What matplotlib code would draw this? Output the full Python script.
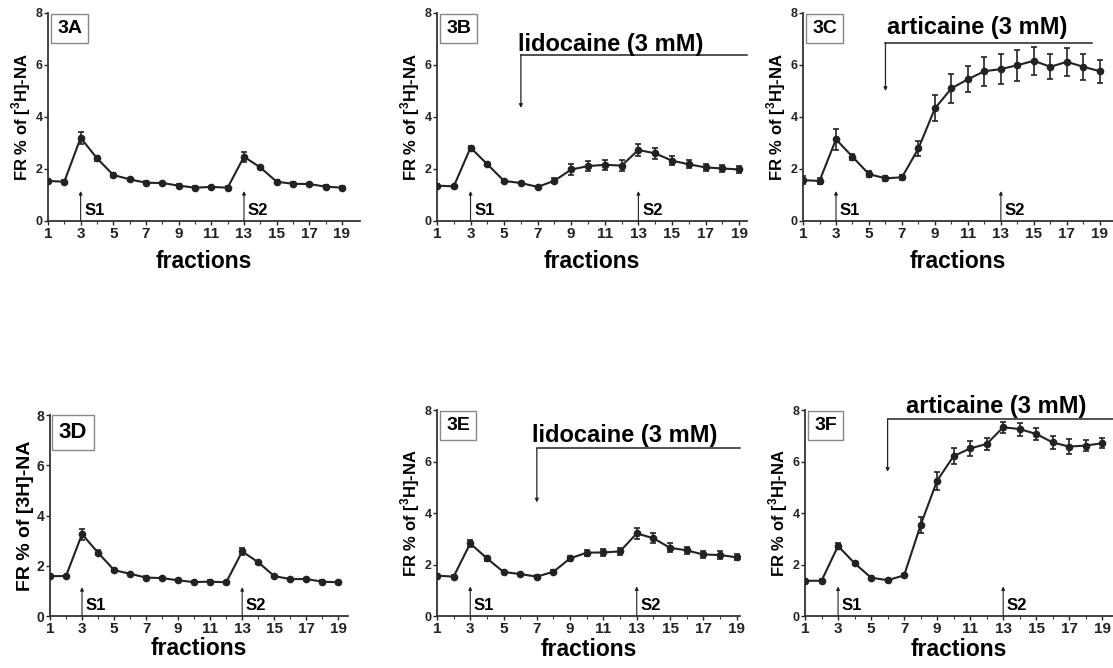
import matplotlib
matplotlib.use("Agg")
import matplotlib.pyplot as plt
import numpy as np

plt.rcParams['font.family'] = ['Liberation Sans', 'DejaVu Sans']
plt.rcParams['mathtext.fontset'] = 'custom'
plt.rcParams['mathtext.rm'] = 'Liberation Sans:bold'
plt.rcParams['mathtext.bf'] = 'Liberation Sans:bold'

fractions = np.arange(1, 20)
xtick_labels = ['1', '3', '5', '7', '9', '11', '13', '15', '17', '19']

# control 1
fr_a = [1.54, 1.51, 3.20, 2.41, 1.77, 1.60, 1.47, 1.46, 1.36, 1.28,
        1.31, 1.28, 2.47, 2.06, 1.51, 1.43, 1.42, 1.32, 1.28]
err_a = [0.05, 0.05, 0.23, 0.10, 0.06, 0.05, 0.05, 0.05, 0.05, 0.05,
         0.05, 0.05, 0.20, 0.06, 0.05, 0.05, 0.05, 0.05, 0.05]
# lidocaine 1
fr_b = [1.36, 1.33, 2.82, 2.18, 1.54, 1.46, 1.31, 1.55, 1.98, 2.11,
        2.16, 2.13, 2.73, 2.60, 2.32, 2.18, 2.06, 2.02, 1.98]
err_b = [0.05, 0.05, 0.06, 0.08, 0.05, 0.05, 0.05, 0.10, 0.20, 0.20,
         0.20, 0.20, 0.22, 0.20, 0.18, 0.15, 0.15, 0.15, 0.15]
# articaine 1
fr_c = [1.57, 1.54, 3.14, 2.47, 1.80, 1.64, 1.68, 2.79, 4.33, 5.10,
        5.45, 5.76, 5.84, 5.99, 6.16, 5.93, 6.12, 5.93, 5.76]
err_c = [0.15, 0.10, 0.40, 0.12, 0.12, 0.10, 0.10, 0.30, 0.50, 0.55,
         0.50, 0.55, 0.58, 0.60, 0.55, 0.48, 0.55, 0.50, 0.45]
# control 2
fr_d = [1.59, 1.59, 3.26, 2.52, 1.83, 1.68, 1.53, 1.51, 1.42, 1.35,
        1.37, 1.34, 2.57, 2.14, 1.59, 1.47, 1.47, 1.37, 1.34]
err_d = [0.05, 0.05, 0.22, 0.10, 0.06, 0.05, 0.05, 0.05, 0.05, 0.05,
         0.05, 0.05, 0.15, 0.06, 0.05, 0.05, 0.05, 0.05, 0.05]
# lidocaine 2
fr_e = [1.57, 1.53, 2.82, 2.24, 1.71, 1.63, 1.53, 1.72, 2.24, 2.46,
        2.47, 2.51, 3.21, 3.02, 2.65, 2.55, 2.39, 2.37, 2.28]
err_e = [0.05, 0.05, 0.15, 0.10, 0.05, 0.05, 0.05, 0.06, 0.10, 0.12,
         0.15, 0.15, 0.22, 0.20, 0.18, 0.15, 0.15, 0.15, 0.12]
# articaine 2
fr_f = [1.37, 1.37, 2.72, 2.05, 1.49, 1.39, 1.58, 3.53, 5.26, 6.21,
        6.51, 6.68, 7.33, 7.26, 7.07, 6.74, 6.58, 6.62, 6.71]
err_f = [0.05, 0.05, 0.12, 0.06, 0.05, 0.05, 0.06, 0.30, 0.35, 0.30,
         0.30, 0.25, 0.22, 0.25, 0.25, 0.25, 0.28, 0.20, 0.20]

ylabel_sup = 'FR % of [$^{3}$H]-NA'
ylabel_plain = 'FR % of [3H]-NA'

fig = plt.figure(figsize=(11.13, 6.68), dpi=100)

def panel(rect, xmax, fr, err, tag, ylabel, xlab_pad=7, ylab_size=12, tag_size=14, ytick_size=9):
    ax = fig.add_axes(rect)
    ax.errorbar(fractions, fr, yerr=err, color='#222222', lw=1.5, marker='o',
                markersize=4.5, elinewidth=1.2, capsize=2.5, capthick=1.2, zorder=3)
    ax.set_xlim(1, xmax)
    ax.set_ylim(0, 8)
    ax.spines['top'].set_visible(False)
    ax.spines['right'].set_visible(False)
    for s in ['left', 'bottom']:
        ax.spines[s].set_color('#333333')
        ax.spines[s].set_linewidth(1.3)
    ax.set_xticks(np.arange(1, 20, 2))
    ax.set_xticklabels(xtick_labels)
    ax.set_xticks(fractions, minor=True)
    ax.set_yticks([0, 2, 4, 6, 8])
    ax.tick_params(axis='both', which='major', length=3, width=1, pad=1, colors='#222222')
    ax.tick_params(axis='x', which='major', labelsize=11)
    ax.tick_params(axis='y', which='major', labelsize=ytick_size)
    ax.tick_params(axis='x', which='minor', length=2, width=0.8, color='#333333')
    for lab in ax.get_xticklabels() + ax.get_yticklabels():
        lab.set_fontweight('bold')
    ax.set_xlabel('fractions', fontsize=16.5, fontweight='bold', labelpad=xlab_pad)
    ax.set_ylabel(ylabel, fontsize=ylab_size, fontweight='bold', labelpad=2)
    ax.text(0.03, 0.965, tag, transform=ax.transAxes, ha='left', va='top',
            fontsize=tag_size, fontweight='bold',
            bbox=dict(boxstyle='square,pad=0.3', fc='white', ec='#888888', lw=1))
    # stimulation arrows
    for xs, name in [(3, 'S1'), (13, 'S2')]:
        ax.annotate('', xy=(xs, 1.15), xytext=(xs, 0),
                    arrowprops=dict(arrowstyle='-|>', lw=0.8, color='#222222',
                                    mutation_scale=5, shrinkA=0, shrinkB=0))
        ax.text(xs + 0.22, 0.42, name, fontsize=12, fontweight='bold', va='center')
    return ax

def drug(ax, label, x0, xend, ytop, ybot, tx, ty):
    ax.plot([x0, xend], [ytop, ytop], color='#222222', lw=1.1, clip_on=False)
    ax.annotate('', xy=(x0, ybot), xytext=(x0, ytop),
                arrowprops=dict(arrowstyle='-|>', lw=0.9, color='#222222',
                                mutation_scale=5, shrinkA=0, shrinkB=0),
                annotation_clip=False)
    ax.text(tx, ty, label, fontsize=17, fontweight='bold', va='baseline', ha='left',
            clip_on=False)

ax_a = panel([0.0431, 0.6692, 0.2803, 0.3114], 20.1, fr_a, err_a, '3A', ylabel_sup)
ax_b = panel([0.3926, 0.6692, 0.2790, 0.3114], 19.5, fr_b, err_b, '3B', ylabel_sup)
drug(ax_b, 'lidocaine (3 mM)', 6, 19.5, 6.4, 4.35, 5.84, 6.55)
ax_c = panel([0.7215, 0.6692, 0.2785, 0.3114], 19.8, fr_c, err_c, '3C', ylabel_sup)
drug(ax_c, 'articaine (3 mM)', 6, 18.5, 6.86, 5.0, 6.07, 7.2)

ax_d = panel([0.0449, 0.0778, 0.2677, 0.3009], 19.6, fr_d, err_d, '3D', ylabel_plain,
             xlab_pad=1, ylab_size=14, tag_size=16, ytick_size=10)
ax_e = panel([0.3926, 0.0778, 0.2722, 0.3084], 19.2, fr_e, err_e, '3E', ylabel_sup, xlab_pad=2)
drug(ax_e, 'lidocaine (3 mM)', 7, 19.2, 6.51, 4.41, 6.7, 6.77)
ax_f = panel([0.7233, 0.0778, 0.2767, 0.3084], 19.65, fr_f, err_f, '3F', ylabel_sup, xlab_pad=2)
drug(ax_f, 'articaine (3 mM)', 6, 19.65, 7.65, 5.6, 7.1, 7.87)

plt.savefig('out.png', dpi=100)
